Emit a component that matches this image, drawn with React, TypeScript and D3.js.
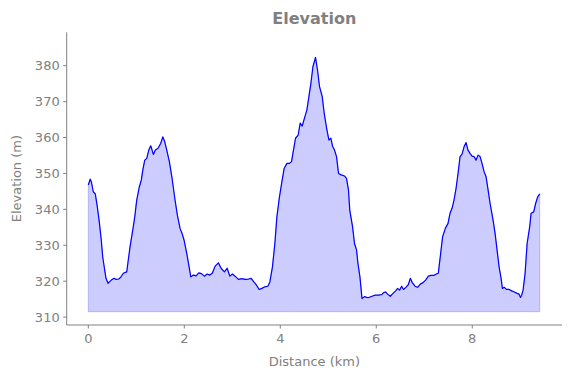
import React from "react";
import * as d3 from "d3";

const distance: number[] = [
  0.0, 0.04, 0.063, 0.104, 0.146, 0.188, 0.229, 0.271, 0.3, 0.342, 0.369, 0.411, 0.438, 0.48, 0.536, 0.578, 0.634, 0.676, 0.73, 0.801,
  0.828, 0.87, 0.926, 0.968, 1.009, 1.064, 1.105, 1.135, 1.176, 1.218, 1.26, 1.301, 1.356, 1.397, 1.454, 1.51, 1.552, 1.593, 1.635, 1.689,
  1.746, 1.802, 1.856, 1.912, 1.954, 1.996, 2.052, 2.094, 2.136, 2.19, 2.246, 2.302, 2.357, 2.419, 2.476, 2.532, 2.586, 2.642, 2.711, 2.767,
  2.836, 2.893, 2.949, 3.003, 3.059, 3.128, 3.199, 3.268, 3.337, 3.393, 3.449, 3.504, 3.56, 3.616, 3.67, 3.741, 3.783, 3.837, 3.887, 3.929,
  3.983, 4.04, 4.081, 4.138, 4.192, 4.234, 4.275, 4.317, 4.373, 4.415, 4.457, 4.513, 4.555, 4.596, 4.638, 4.68, 4.734, 4.776, 4.818, 4.874,
  4.916, 4.972, 5.014, 5.055, 5.089, 5.131, 5.172, 5.214, 5.269, 5.338, 5.38, 5.421, 5.448, 5.506, 5.547, 5.589, 5.618, 5.66, 5.702, 5.756,
  5.827, 5.91, 5.979, 6.048, 6.119, 6.152, 6.194, 6.236, 6.292, 6.348, 6.403, 6.444, 6.486, 6.528, 6.569, 6.626, 6.667, 6.709, 6.751, 6.807,
  6.861, 6.918, 6.974, 7.028, 7.085, 7.141, 7.195, 7.251, 7.293, 7.32, 7.35, 7.383, 7.439, 7.495, 7.537, 7.579, 7.62, 7.662, 7.704, 7.746,
  7.787, 7.829, 7.871, 7.912, 7.954, 7.996, 8.038, 8.079, 8.121, 8.163, 8.204, 8.246, 8.288, 8.33, 8.371, 8.434, 8.476, 8.517, 8.559, 8.601,
  8.628, 8.67, 8.712, 8.767, 8.822, 8.878, 8.934, 8.976, 9.003, 9.03, 9.059, 9.101, 9.143, 9.197, 9.226, 9.28, 9.322, 9.364, 9.406,
];

const elevation: number[] = [
  346.8, 348.4, 347.7, 344.9, 344.3, 340.7, 336.5, 331.4, 326.8, 323.1, 320.8, 319.4, 319.8, 320.3, 320.8, 320.5, 320.6, 321.1, 322.2, 322.6,
  325.4, 329.6, 334.2, 337.9, 342.6, 346.3, 348.2, 350.9, 353.7, 354.2, 356.5, 357.7, 355.3, 356.5, 357.0, 358.4, 360.2, 358.8, 356.5, 353.3,
  348.6, 343.1, 338.4, 334.7, 333.3, 331.4, 327.7, 324.5, 321.2, 321.7, 321.5, 322.3, 322.1, 321.4, 322.0, 321.7, 322.3, 324.2, 325.1, 323.6,
  322.6, 323.6, 321.4, 322.0, 321.4, 320.5, 320.7, 320.5, 320.6, 320.8, 319.8, 318.9, 317.7, 318.0, 318.4, 318.6, 319.8, 324.0, 330.5, 337.9,
  343.5, 348.2, 351.4, 352.8, 352.8, 353.3, 356.5, 359.8, 360.7, 364.0, 363.2, 365.8, 367.7, 371.4, 375.1, 379.7, 382.3, 378.8, 374.2, 371.4,
  366.7, 362.1, 359.3, 359.8, 357.6, 356.5, 354.7, 350.0, 349.6, 349.3, 348.6, 345.4, 339.8, 335.2, 330.5, 328.7, 325.0, 321.2, 315.2, 315.7,
  315.4, 315.8, 316.1, 316.1, 316.3, 316.8, 317.0, 316.4, 315.8, 316.6, 317.3, 318.0, 317.5, 318.6, 317.7, 318.4, 319.0, 320.8, 319.6, 318.6,
  318.3, 319.2, 319.6, 320.3, 321.4, 321.6, 321.6, 322.0, 322.2, 325.3, 328.7, 332.4, 334.7, 336.1, 338.9, 340.3, 342.6, 345.8, 350.0, 354.7,
  355.4, 357.4, 358.6, 356.5, 355.6, 354.8, 354.7, 353.7, 355.1, 354.7, 352.8, 350.5, 349.1, 345.4, 341.7, 337.0, 333.3, 328.7, 324.0, 320.8,
  318.0, 318.3, 317.7, 317.7, 317.3, 317.0, 316.6, 316.4, 315.5, 316.1, 317.5, 322.2, 330.5, 335.2, 338.9, 339.3, 341.7, 343.5, 344.3,
];

const xTicks: number[] = [0, 2, 4, 6, 8];
const yTicks: number[] = [310, 320, 330, 340, 350, 360, 370, 380];
const fillBase = 311.5;
const titleText = "Elevation";
const xLabel = "Distance (km)";
const yLabel = "Elevation (m)";

const W = 571;
const H = 378;
const left = 66.7;
const right = 562;
const top = 32.3;
const bottom = 325;
const gray = "#808080";
const font = "DejaVu Sans, sans-serif";

export default function App() {
  const x = d3.scaleLinear().domain([-0.45, 9.87]).range([left, right]);
  const y = d3.scaleLinear().domain([307.8, 389.3]).range([bottom, top]);
  const pts = distance.map((d, i) => [d, elevation[i]] as [number, number]);
  const line = d3.line<[number, number]>().x((d) => x(d[0])).y((d) => y(d[1]));
  const area = d3
    .area<[number, number]>()
    .x((d) => x(d[0]))
    .y0(() => y(fillBase))
    .y1((d) => y(d[1]));

  return (
    <div style={{ position: "fixed", left: 0, top: 0 }}>
      <svg width={W} height={H} style={{ display: "block", background: "#fff" }}>
        <path d={area(pts) || ""} fill="rgb(0,0,255)" fillOpacity={0.2} stroke="rgb(0,0,255)" strokeOpacity={0.2} strokeWidth={1} />
        <path d={line(pts) || ""} fill="none" stroke="#0000ff" strokeWidth={1.2} strokeLinejoin="round" />
        <line x1={left} x2={left} y1={top} y2={bottom} stroke={gray} strokeWidth={1} />
        <line x1={left} x2={right} y1={bottom} y2={bottom} stroke={gray} strokeWidth={1} />
        {xTicks.map((t) => (
          <g key={"x" + t}>
            <line x1={x(t)} x2={x(t)} y1={bottom} y2={bottom + 3.5} stroke={gray} strokeWidth={1} />
            <text x={x(t)} y={bottom + 18} textAnchor="middle" fontFamily={font} fontSize={13} fill={gray}>
              {t}
            </text>
          </g>
        ))}
        {yTicks.map((t) => (
          <g key={"y" + t}>
            <line x1={left - 3.5} x2={left} y1={y(t)} y2={y(t)} stroke={gray} strokeWidth={1} />
            <text x={left - 7} y={y(t) + 4.5} textAnchor="end" fontFamily={font} fontSize={13} fill={gray}>
              {t}
            </text>
          </g>
        ))}
        <text x={(left + right) / 2} y={366} textAnchor="middle" fontFamily={font} fontSize={13} fill={gray}>
          {xLabel}
        </text>
        <text
          transform={`translate(21,${(top + bottom) / 2}) rotate(-90)`}
          textAnchor="middle"
          fontFamily={font}
          fontSize={13}
          fill={gray}
        >
          {yLabel}
        </text>
        <text x={(left + right) / 2} y={24} textAnchor="middle" fontFamily={font} fontSize={16} fontWeight="bold" fill={gray}>
          {titleText}
        </text>
      </svg>
    </div>
  );
}
